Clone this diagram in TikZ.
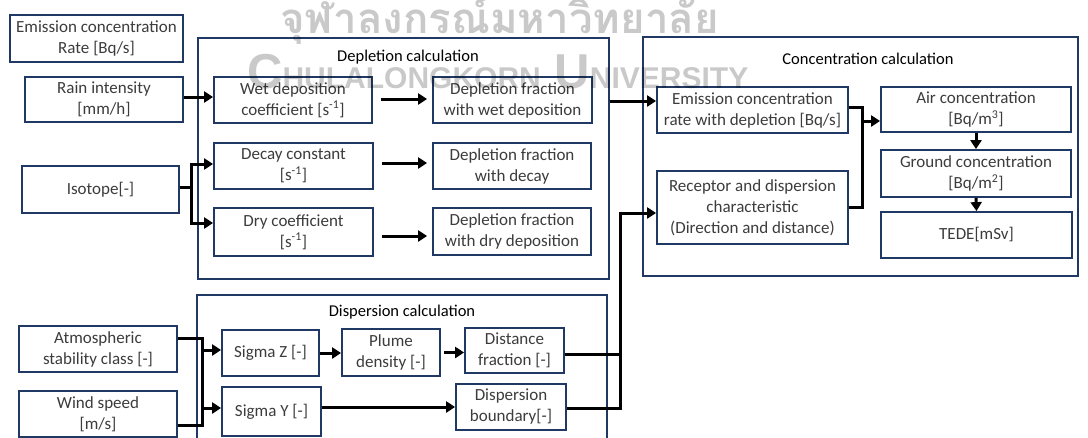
\documentclass[tikz,border=0pt]{standalone}
\usepackage{fontspec}
\setmainfont{Carlito}
\newfontfamily\thaiwm[Script=Thai]{Loma}
\newfontfamily\latinwm{Liberation Sans}
\usetikzlibrary{arrows.meta}
\definecolor{navy}{HTML}{1F3864}
\definecolor{txt}{HTML}{3C3C3C}

\begin{document}
\begin{tikzpicture}[x=1pt,y=-1pt,
  box/.style={draw=navy, line width=1.8pt, fill=white, align=center, inner sep=0pt,
              text=txt, font=\fontsize{17}{21}\selectfont},
  frame/.style={draw=navy, line width=1.4pt, inner sep=0pt},
  title/.style={font=\fontsize{16.5}{20}\selectfont, text=black, inner sep=0pt},
  ln/.style={line width=3pt, black},
  arr/.style={ln, -{Triangle[length=9pt,width=11pt]}},
  wm/.style={black, opacity=0.21, inner sep=0pt, anchor=base west},
]
\clip (0,0) rectangle (1088,437);
\fill[white] (0,0) rectangle (1088,437);

% calculation frames
\node[frame, minimum width=411, minimum height=241] (depl) at (403.5,158.5) {};
\node[frame, minimum width=410, minimum height=150] (disp) at (402,370) {};
\node[frame, minimum width=435, minimum height=239] (conc) at (860.5,156.5) {};
\node[title] at (408,57) {Depletion calculation};
\node[title] at (402,312) {Dispersion calculation};
\node[title] at (868,59) {Concentration calculation};

% inputs
\node[box, minimum width=173, minimum height=47] (rate) at (96.5,38.5) {Emission concentration\\Rate [Bq/s]};
\node[box, minimum width=158, minimum height=45] (rain) at (104,99.5) {Rain intensity\\{}[mm/h]};
\node[box, minimum width=157, minimum height=47] (iso) at (100.5,189.5) {Isotope[-]};
\node[box, minimum width=158, minimum height=46] (atm) at (98,349) {Atmospheric\\stability class [-]};
\node[box, minimum width=158, minimum height=46] (wind) at (98,414) {Wind speed\\{}[m/s]};

% depletion
\node[box, minimum width=158, minimum height=46] (wet) at (293,100) {Wet deposition\\coefficient [s\textsuperscript{-1}]};
\node[box, minimum width=159, minimum height=46] (decay) at (293.5,166) {Decay constant\\{}[s\textsuperscript{-1}]};
\node[box, minimum width=159, minimum height=48] (dry) at (293.5,232) {Dry coefficient\\{}[s\textsuperscript{-1}]};
\node[box, minimum width=159, minimum height=46] (fwet) at (512.5,100) {Depletion fraction\\with wet deposition};
\node[box, minimum width=158, minimum height=46] (fdecay) at (512,166) {Depletion fraction\\with decay};
\node[box, minimum width=158, minimum height=47] (fdry) at (512,231.5) {Depletion fraction\\with dry deposition};

% dispersion
\node[box, minimum width=97, minimum height=46] (sigz) at (270.5,353) {Sigma Z [-]};
\node[box, minimum width=98, minimum height=47] (plume) at (391,352.5) {Plume\\density [-]};
\node[box, minimum width=99, minimum height=45] (dfrac) at (514.5,350.5) {Distance\\fraction [-]};
\node[box, minimum width=99, minimum height=49] (sigy) at (271.5,411.5) {Sigma Y [-]};
\node[box, minimum width=110, minimum height=46] (dbound) at (511,407) {Dispersion\\boundary[-]};

% concentration
\node[box, minimum width=191, minimum height=46] (ecd) at (752.5,110) {Emission concentration\\rate with depletion [Bq/s]};
\node[box, minimum width=191, minimum height=73] (rec) at (752.5,207.5) {Receptor and dispersion\\characteristic\\(Direction and distance)};
\node[box, minimum width=190, minimum height=45] (air) at (976,109.5) {Air concentration\\{}[Bq/m\textsuperscript{3}]};
\node[box, minimum width=190, minimum height=47] (ground) at (976,173.5) {Ground concentration\\{}[Bq/m\textsuperscript{2}]};
\node[box, minimum width=191, minimum height=46] (tede) at (976.5,235) {TEDE[mSv]};

% junction points
\coordinate (ibus) at (191,187);
\coordinate (bz) at (202,350);
\coordinate (by) at (202,408);
\coordinate (rbus) at (620,354);
\coordinate (cbus) at (862,121);

% depletion connectors
\draw[arr] ([yshift=2.5pt]rain.east) -- ([yshift=3pt]wet.west);
\draw[ln] ([yshift=2.5pt]iso.east) -- (ibus);
\draw[arr] (ibus) |- ([yshift=2pt]decay.west);
\draw[arr] (ibus) |- ([yshift=9pt]dry.west);
\draw[arr] ([xshift=8pt,yshift=1pt]wet.east) -- ([xshift=-5pt,yshift=1pt]fwet.west);
\draw[arr] ([xshift=8pt,yshift=3pt]decay.east) -- ([xshift=-5pt,yshift=3pt]fdecay.west);
\draw[arr] ([xshift=8pt,yshift=-4pt]dry.east) -- ([xshift=-5pt,yshift=-4.5pt]fdry.west);

% dispersion connectors
\draw[ln] ([yshift=11pt]atm.east) -| (bz) -- (by) |- ([yshift=-11pt]wind.east);
\draw[arr] (bz) -- ([yshift=3pt]sigz.west);
\draw[arr] (by) -- ([yshift=3.5pt]sigy.west);
\draw[arr] (sigz.east) -- (sigz.east -| plume.west);
\draw[arr] ([xshift=3pt]plume.east) -- ([yshift=-2pt]dfrac.west);
\draw[arr] ([yshift=4.5pt]sigy.east) -- (dbound.west);

% into the concentration block
\draw[arr] ([yshift=57.5pt]depl.east) -- ([yshift=9pt]ecd.west);
\draw[ln] ([yshift=-3.5pt]dfrac.east) -- (rbus);
\draw[arr] ([yshift=-1pt]dbound.east) -| (rbus) |- ([yshift=-5.5pt]rec.west);
\draw[ln] ([yshift=3pt]ecd.east) -| (cbus) |- (rec.east);
\draw[arr] (cbus) -- ([yshift=-11.5pt]air.west);
\draw[arr] (air.south) -- (ground.north);
\draw[arr] (ground.south) -- (tede.north);

% university watermark
\node[wm, font=\thaiwm\bfseries\fontsize{42}{42}\selectfont] at (280,33) {จุฬาลงกรณ์มหาวิทยาลัย};
\node[wm, font=\latinwm\bfseries] at (247,88)
  {\fontsize{49}{49}\selectfont C\fontsize{30}{30}\selectfont HULALONGKORN\fontsize{49}{49}\selectfont{} U\fontsize{30}{30}\selectfont NIVERSITY};
\end{tikzpicture}
\end{document}
